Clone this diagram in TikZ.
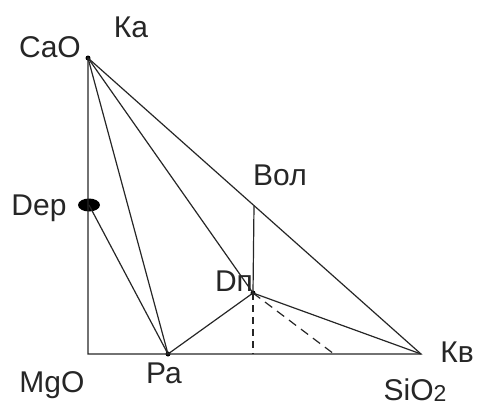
\documentclass[tikz,border=0pt]{standalone}
\usepackage{fontspec}
\setmainfont{Liberation Sans}
\usetikzlibrary{shapes.geometric}
\begin{document}
\begin{tikzpicture}[x=1pt,y=-1pt,
  edge/.style={line width=1.2pt, draw=black!85},
  lbl/.style={anchor=base, inner sep=0pt, font=\fontsize{30}{34}\selectfont, text=black!85},
  dot/.style={circle, fill=black, inner sep=0pt, minimum size=5pt}]
\useasboundingbox (0,0) rectangle (477,405);
\node[dot] (cao) at (88,58) {};
\coordinate (mgo) at (88,354);
\node[dot] (pa) at (168,354) {};
\coordinate (kv) at (421,354);
\node[dot] (dp) at (253,293) {};
\coordinate (vol) at (254,206);
\node[ellipse, fill=black, inner sep=0pt, minimum width=22pt, minimum height=13pt] (dep) at (89,205) {};
\coordinate (dpbase) at (253,354);
\coordinate (dpend) at (334,354);
\draw[edge] (cao.center) -- (mgo) -- (kv) -- cycle;
\draw[edge] (cao.center) -- (pa.center);
\draw[edge] (cao.center) -- (dp.center);
\draw[edge] (dep.center) -- (pa.center);
\draw[edge] (pa.center) -- (dp.center) -- (kv);
\draw[edge] (vol) -- (dp.center);
\draw[edge, dash pattern=on 7pt off 5pt] (dp.center) -- (dpbase);
\draw[edge, dash pattern=on 9pt off 6pt] (dp.center) -- (dpend);
\node[lbl] (lcao) at (50,57) {CaO};
\node[lbl] (lka) at (131,37) {Ка};
\node[lbl] (ldep) at (39,215) {Dep};
\node[lbl] (lmgo) at (52,392) {MgO};
\node[lbl] (lpa) at (164,383) {Ра};
\node[lbl] (lvol) at (280,185) {Вол};
\node[lbl] (ldp) at (234,291) {Dп};
\node[lbl] (lkv) at (457,362) {Кв};
\node[lbl] (lsio) at (415,400) {SiO\raisebox{-1.5pt}{\fontsize{23}{24}\selectfont 2}};
\end{tikzpicture}
\end{document}
